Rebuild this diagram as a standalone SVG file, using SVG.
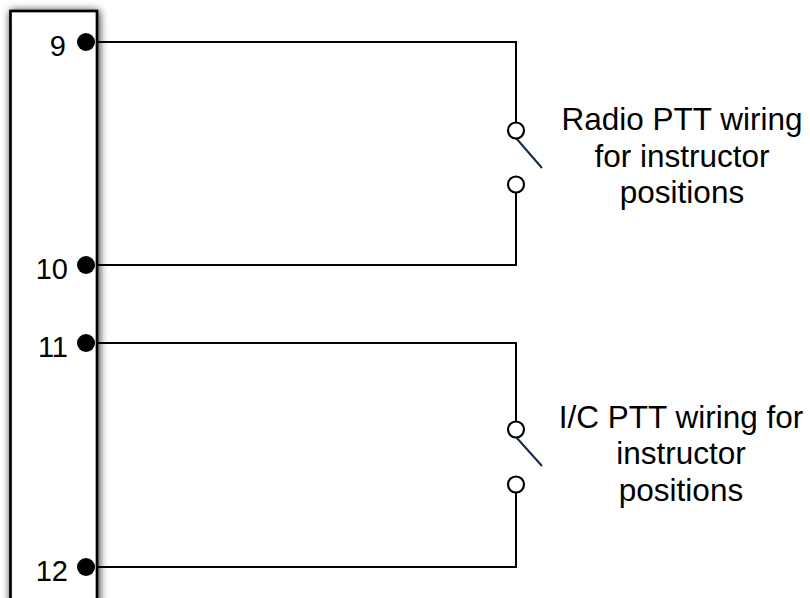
<svg xmlns="http://www.w3.org/2000/svg" width="810" height="598" viewBox="0 0 810 598">
<defs>
<filter id="shadow" x="-30%" y="-10%" width="160%" height="120%">
<feGaussianBlur in="SourceAlpha" stdDeviation="4.5"/>
<feOffset dx="1" dy="1" result="b"/>
<feComponentTransfer><feFuncA type="linear" slope="0.85"/></feComponentTransfer>
<feMerge><feMergeNode/><feMergeNode in="SourceGraphic"/></feMerge>
</filter>
</defs>
<style>
.wire{fill:none;stroke:#000;stroke-width:2}
.term{fill:#fff;stroke:#000;stroke-width:2.2}
.blade{stroke:#12284a;stroke-width:2}
.pin{fill:#000}
.num{font-family:"Liberation Sans",Arial,sans-serif;font-size:29px;fill:#000;text-anchor:end}
.lbl{font-family:"Liberation Sans",Arial,sans-serif;font-size:31.5px;fill:#000;text-anchor:middle}
</style>
<g id="connector-block">
<rect x="10.5" y="11" width="86.5" height="620" fill="#fff" stroke="#000" stroke-width="2.7" filter="url(#shadow)"/>
</g>
<g id="connectors">
<polyline class="wire" points="97,42 516,42 516,123"/>
<polyline class="wire" points="516,192 516,265 97,265"/>
<polyline class="wire" points="97,343 516,343 516,422"/>
<polyline class="wire" points="516,492 516,567 97,567"/>
</g>
<g id="pin-9"><circle class="pin" cx="86" cy="42" r="9"/><text class="num" x="66" y="56">9</text></g>
<g id="pin-10"><circle class="pin" cx="86" cy="265" r="9"/><text class="num" x="68" y="279">10</text></g>
<g id="pin-11"><circle class="pin" cx="86" cy="343" r="9"/><text class="num" x="68" y="357">11</text></g>
<g id="pin-12"><circle class="pin" cx="86" cy="567" r="9"/><text class="num" x="68" y="581">12</text></g>
<g id="switch-radio">
<line class="blade" x1="516" y1="138" x2="542" y2="168"/>
<circle class="term" cx="516" cy="130.5" r="8"/>
<circle class="term" cx="516" cy="184.5" r="8"/>
</g>
<g id="switch-ic">
<line class="blade" x1="516" y1="437" x2="542" y2="466"/>
<circle class="term" cx="516" cy="429.5" r="8"/>
<circle class="term" cx="516" cy="484.5" r="8"/>
</g>
<g id="label-radio">
<text class="lbl" x="682" y="130">Radio PTT wiring</text>
<text class="lbl" x="682" y="166.5">for instructor</text>
<text class="lbl" x="682" y="203">positions</text>
</g>
<g id="label-ic">
<text class="lbl" x="681" y="427.5">I/C PTT wiring for</text>
<text class="lbl" x="681" y="464">instructor</text>
<text class="lbl" x="681" y="500.5">positions</text>
</g>
</svg>
